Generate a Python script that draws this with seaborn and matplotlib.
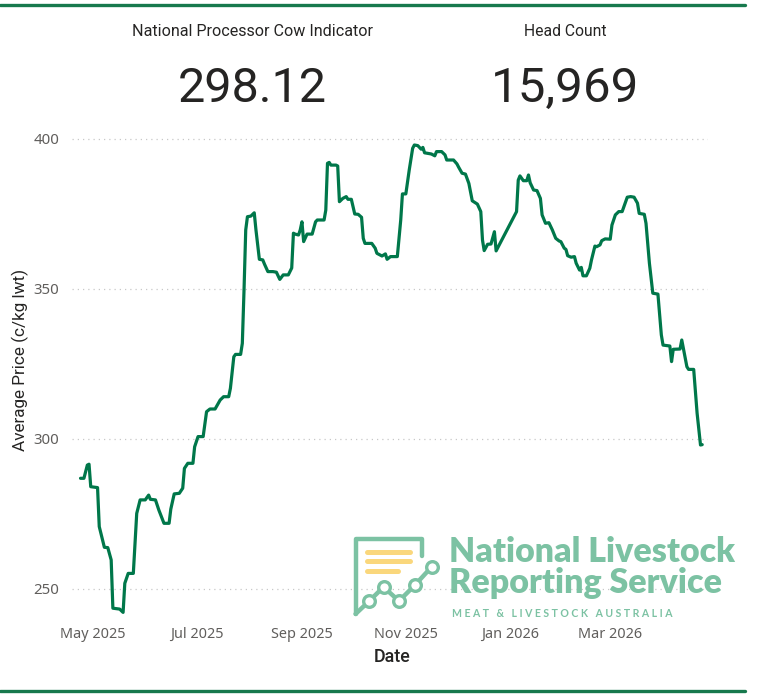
import matplotlib
matplotlib.use("Agg")
import matplotlib.pyplot as plt
import pandas as pd
import seaborn as sns
from matplotlib.lines import Line2D

# ---------------- data ----------------
dates = [
    "2025-04-24", "2025-04-26", "2025-04-28", "2025-04-29", "2025-04-30", "2025-05-04", "2025-05-05",
    "2025-05-08", "2025-05-10", "2025-05-12", "2025-05-13", "2025-05-17", "2025-05-19", "2025-05-20",
    "2025-05-22", "2025-05-25", "2025-05-27", "2025-05-29", "2025-06-01", "2025-06-03", "2025-06-04",
    "2025-06-07", "2025-06-09", "2025-06-12", "2025-06-15", "2025-06-16", "2025-06-18", "2025-06-21",
    "2025-06-23", "2025-06-24", "2025-06-26", "2025-06-29", "2025-06-30", "2025-07-02", "2025-07-05",
    "2025-07-07", "2025-07-09", "2025-07-12", "2025-07-15", "2025-07-17", "2025-07-20", "2025-07-21",
    "2025-07-23", "2025-07-24", "2025-07-27", "2025-07-28", "2025-07-29", "2025-07-30", "2025-07-31",
    "2025-08-02", "2025-08-04", "2025-08-05", "2025-08-07", "2025-08-09", "2025-08-10", "2025-08-12",
    "2025-08-15", "2025-08-17", "2025-08-19", "2025-08-21", "2025-08-24", "2025-08-26", "2025-08-27",
    "2025-08-28", "2025-08-30", "2025-08-31", "2025-09-01", "2025-09-02", "2025-09-04", "2025-09-07",
    "2025-09-09", "2025-09-10", "2025-09-14", "2025-09-15", "2025-09-16", "2025-09-17", "2025-09-18",
    "2025-09-21", "2025-09-22", "2025-09-23", "2025-09-25", "2025-09-27", "2025-09-28", "2025-09-30",
    "2025-10-02", "2025-10-04", "2025-10-06", "2025-10-07", "2025-10-08", "2025-10-12", "2025-10-14",
    "2025-10-15", "2025-10-18", "2025-10-20", "2025-10-21", "2025-10-23", "2025-10-27", "2025-10-29",
    "2025-10-30", "2025-11-01", "2025-11-03", "2025-11-05", "2025-11-06", "2025-11-08", "2025-11-10",
    "2025-11-11", "2025-11-12", "2025-11-16", "2025-11-18", "2025-11-19", "2025-11-22", "2025-11-24",
    "2025-11-25", "2025-11-29", "2025-12-01", "2025-12-02", "2025-12-04", "2025-12-06", "2025-12-08",
    "2025-12-10", "2025-12-13", "2025-12-15", "2025-12-16", "2025-12-17", "2025-12-19", "2025-12-21",
    "2025-12-23", "2025-12-24", "2026-01-05", "2026-01-06", "2026-01-07", "2026-01-09", "2026-01-11",
    "2026-01-12", "2026-01-13", "2026-01-15", "2026-01-17", "2026-01-19", "2026-01-20", "2026-01-22",
    "2026-01-24", "2026-01-26", "2026-01-28", "2026-01-30", "2026-01-31", "2026-02-02", "2026-02-03",
    "2026-02-04", "2026-02-06", "2026-02-08", "2026-02-09", "2026-02-11", "2026-02-12", "2026-02-13",
    "2026-02-15", "2026-02-17", "2026-02-18", "2026-02-20", "2026-02-21", "2026-02-23", "2026-02-24",
    "2026-02-26", "2026-03-01", "2026-03-02", "2026-03-04", "2026-03-06", "2026-03-08", "2026-03-11",
    "2026-03-13", "2026-03-15", "2026-03-17", "2026-03-18", "2026-03-21", "2026-03-22", "2026-03-24",
    "2026-03-26", "2026-03-29", "2026-03-31", "2026-04-01", "2026-04-05", "2026-04-06", "2026-04-07",
    "2026-04-11", "2026-04-12", "2026-04-15", "2026-04-16", "2026-04-19", "2026-04-21", "2026-04-23",
    "2026-04-24",
]
prices = [
    286.9, 286.9, 291.3, 291.6, 284.1, 283.8, 270.8,
    263.9, 263.8, 259.7, 243.6, 243.3, 242.2, 251.9,
    255.2, 255.2, 275.2, 279.7, 279.7, 281.3, 279.9,
    279.7, 276.3, 271.9, 271.9, 276.6, 281.7, 281.9,
    283.6, 290.2, 291.9, 291.9, 297.4, 300.8, 300.8,
    309.1, 310.0, 310.0, 313.0, 314.1, 314.1, 316.9,
    327.4, 328.2, 328.2, 331.9, 349.7, 369.7, 374.1,
    374.3, 375.4, 369.7, 359.9, 359.7, 358.3, 355.8,
    355.8, 355.6, 353.2, 354.7, 354.7, 357.0, 368.6,
    368.3, 368.0, 369.7, 372.4, 365.8, 368.3, 368.3,
    372.4, 373.0, 373.0, 376.3, 391.9, 392.2, 391.3,
    391.3, 391.0, 379.1, 380.2, 380.8, 379.9, 379.9,
    375.0, 374.9, 373.9, 366.9, 365.2, 365.2, 363.6,
    361.9, 361.0, 361.7, 359.9, 360.8, 360.8, 373.0,
    381.7, 381.7, 389.7, 396.9, 398.0, 397.8, 396.6,
    397.2, 395.4, 395.0, 394.4, 395.8, 395.8, 394.7,
    393.0, 393.0, 391.7, 390.6, 388.6, 388.3, 385.2,
    379.4, 378.3, 375.8, 366.3, 362.8, 364.9, 365.0,
    369.1, 362.7, 375.8, 386.3, 387.7, 386.1, 386.1,
    388.0, 385.4, 383.0, 382.8, 380.2, 374.7, 371.9,
    372.1, 369.7, 366.9, 366.0, 365.8, 363.6, 363.2,
    361.1, 360.6, 360.8, 358.6, 356.3, 357.2, 354.4,
    354.4, 356.9, 359.7, 364.3, 364.1, 364.7, 366.1,
    366.7, 366.6, 371.3, 374.7, 375.8, 375.8, 380.6,
    380.8, 380.6, 378.6, 375.2, 374.9, 371.9, 358.6,
    348.6, 348.3, 334.7, 331.3, 331.0, 325.8, 329.9,
    330.0, 333.0, 324.1, 323.2, 323.2, 308.6, 298.0,
    298.12,
]
x_tick_dates = ["2025-05-01", "2025-07-01", "2025-09-01", "2025-11-01", "2026-01-01", "2026-03-01"]
x_tick_labels = ["May 2025", "Jul 2025", "Sep 2025", "Nov 2025", "Jan 2026", "Mar 2026"]
y_ticks = [250, 300, 350, 400]
kpi_titles = ["National Processor Cow Indicator", "Head Count"]
kpi_values = ["298.12", "15,969"]
logo_lines = ["National Livestock", "Reporting Service"]
logo_sub_words = ["MEAT", "&", "LIVESTOCK", "AUSTRALIA"]

# ---------------- styling ----------------
W, H = 759, 696
GREEN = "#00774A"
BAR_GREEN = "#17794D"
LOGO_GREEN = "#7CC2A3"
LOGO_YELLOW = "#FAD77C"
DARK = "#252423"
GREY = "#605E5C"

sns.set_theme(style="white")
plt.rcParams["font.family"] = ["Noto Sans", "DejaVu Sans"]
DIN = ["Roboto", "DejaVu Sans"]
LOGO_FONT = ["Lato", "DejaVu Sans"]

fig = plt.figure(figsize=(W / 100, H / 100), dpi=100)
fig.patch.set_facecolor("white")


def fx(x):
    return x / W


def fy(y):
    return 1 - y / H


renderer = fig.canvas.get_renderer()


def fit_width(t, width_px):
    bb = t.get_window_extent(renderer)
    t.set_fontsize(t.get_fontsize() * width_px / bb.width)


# plot area
ax = fig.add_axes([fx(72), fy(619), 636 / W, 489 / H])
df = pd.DataFrame({"Date": pd.to_datetime(dates), "Price": prices})
sns.lineplot(data=df, x="Date", y="Price", ax=ax, color=GREEN, linewidth=2.3,
             solid_joinstyle="round", solid_capstyle="round", zorder=5)

may1 = pd.Timestamp("2025-05-01")
ax.set_xlim(may1 - pd.Timedelta(days=12.0), may1 + pd.Timedelta(days=361.4))
ax.set_ylim(240, 403)
ax.set_xticks(pd.to_datetime(x_tick_dates))
ax.set_xticklabels(x_tick_labels)
ax.set_yticks(y_ticks)
ax.set_yticklabels([str(v) for v in y_ticks])
ax.tick_params(axis="x", length=0, pad=6, labelsize=10.4, labelcolor=GREY)
ax.tick_params(axis="y", length=0, pad=9, labelsize=10.8, labelcolor=GREY)
for s in ax.spines.values():
    s.set_visible(False)
ax.grid(False)
for v in y_ticks:
    ax.axhline(v, color="#C8C8C8", linewidth=0.9, linestyle=(0, (1, 3.2)), zorder=1)
ax.set_facecolor("none")

ax.set_xlabel("Date", fontsize=11.5, color=DARK, family=DIN, fontweight="medium")
ax.xaxis.set_label_coords((392 - 72) / 636, -(657 - 619) / 489)
ax.set_ylabel("Average Price (c/kg lwt)", fontsize=12.3, color=DARK, family=DIN)
ax.yaxis.set_label_coords((20 - 72) / 636, (619 - 360) / 489)
ax.xaxis.label.set_verticalalignment("center")
ax.yaxis.label.set_verticalalignment("center")
fit_width(ax.xaxis.label, 37)

# top / bottom rules
fig.add_artist(Line2D([0, fx(745)], [fy(4.5), fy(4.5)], color=BAR_GREEN, lw=2.4,
                      transform=fig.transFigure))
fig.add_artist(Line2D([0, fx(745)], [fy(690.5), fy(690.5)], color=BAR_GREEN, lw=2.4,
                      transform=fig.transFigure))

# KPI cards
for cx, title, val, tw, vw in [(252, kpi_titles[0], kpi_values[0], 241, 149),
                                (565, kpi_titles[1], kpi_values[1], 82, 148)]:
    t1 = fig.text(fx(cx), fy(31.5), title, ha="center", va="center", color=DARK,
                  fontsize=10, family=DIN)
    fit_width(t1, tw)
    t2 = fig.text(fx(cx + 0.5), fy(88.5), val, ha="center", va="center", color=DARK,
                  fontsize=36, family=DIN)
    fit_width(t2, vw)

# ---------------- NLRS watermark logo ----------------
tf = fig.transFigure
# document outline
ox = [421.7, 421.7, 355.5, 355.5]
oy = [556, 538.5, 538.5, 614]
fig.add_artist(Line2D([fx(v) for v in ox], [fy(v) for v in oy], color=LOGO_GREEN, lw=3.2,
                      solid_joinstyle="round", solid_capstyle="round", transform=tf))
# chart line with nodes
cxs = [355.5, 369.3, 383.5, 399.0, 415.0, 431.5]
cys = [614, 601.0, 587.0, 601.0, 585.0, 567.0]
fig.add_artist(Line2D([fx(v) for v in cxs], [fy(v) for v in cys], color=LOGO_GREEN, lw=3.2,
                      solid_joinstyle="round", solid_capstyle="round", transform=tf))
fig.add_artist(Line2D([fx(v) for v in cxs[1:]], [fy(v) for v in cys[1:]], linestyle="none",
                      marker="o", markersize=8.4, markerfacecolor="white",
                      markeredgecolor=LOGO_GREEN, markeredgewidth=2.4, transform=tf))
# yellow text bars
for (x0, x1, yy) in [(367, 410, 551.5), (367, 410, 560.5), (367, 398, 570.5)]:
    fig.add_artist(Line2D([fx(x0), fx(x1)], [fy(yy), fy(yy)], color=LOGO_YELLOW, lw=3.6,
                          solid_capstyle="round", transform=tf))
# logo text
l1 = fig.text(fx(449), fy(552.5), logo_lines[0], ha="left", va="center", color=LOGO_GREEN,
              fontsize=24, fontweight="heavy", family=LOGO_FONT)
fit_width(l1, 286)
l2 = fig.text(fx(449), fy(583), logo_lines[1], ha="left", va="center", color=LOGO_GREEN,
              fontsize=24, fontweight="heavy", family=LOGO_FONT)
fit_width(l2, 273)
sub = "   ".join(" ".join(list(w)) for w in logo_sub_words)
l3 = fig.text(fx(452), fy(613.5), sub, ha="left", va="center", color=LOGO_GREEN, fontsize=7,
              family=LOGO_FONT, fontweight="bold")
fit_width(l3, 224)

fig.savefig("out.png", dpi=100, facecolor="white")
